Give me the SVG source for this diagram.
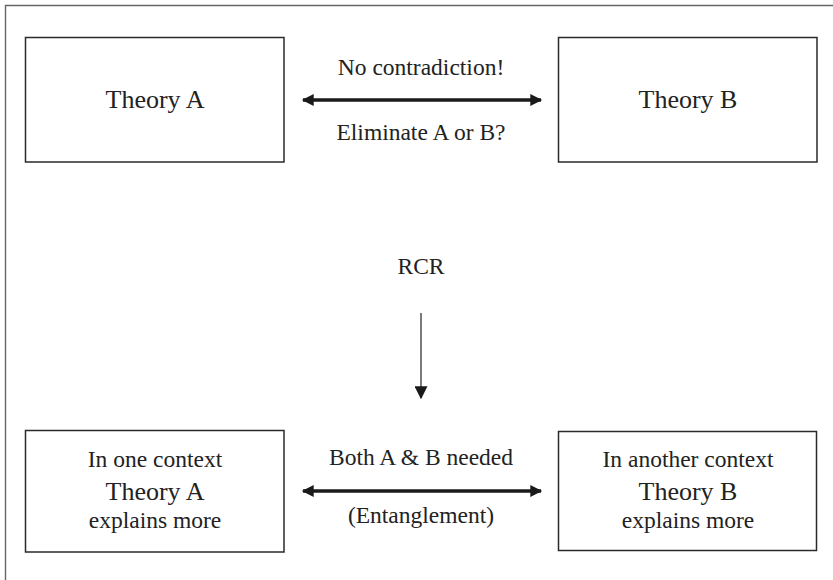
<svg xmlns="http://www.w3.org/2000/svg" width="833" height="580" viewBox="0 0 833 580">
<style>
.box{fill:#fff;stroke:#2a2a2a;stroke-width:1.5}
.t{font-family:"Liberation Serif","Times New Roman",serif;fill:#222;text-anchor:middle}
.big{font-size:26px}
.sm{font-size:23.5px}
.thick{stroke:#1a1a1a;stroke-width:3.5;fill:none}
.thin{stroke:#333;stroke-width:1.3;fill:none}
</style>
<defs>
<marker id="ah" viewBox="0 0 10 10" refX="9" refY="5" markerWidth="4" markerHeight="3.4" orient="auto-start-reverse" markerUnits="strokeWidth">
<path d="M0,0 L10,5 L0,10 z" fill="#1a1a1a"/>
</marker>
<marker id="ahs" viewBox="0 0 10 10" refX="9" refY="5" markerWidth="10" markerHeight="10" orient="auto" markerUnits="strokeWidth">
<path d="M0,0 L10,5 L0,10 z" fill="#1a1a1a"/>
</marker>
</defs>
<rect x="0" y="0" width="833" height="580" fill="#fff"/>
<path d="M5.5,600 L5.5,5.5 L840,5.5" fill="none" stroke="#666" stroke-width="1.4"/>
<g id="theoryA">
<rect class="box" x="25.5" y="37.5" width="258.5" height="124.5"/>
<text class="t big" x="155" y="108">Theory A</text>
</g>
<g id="theoryB">
<rect class="box" x="558.5" y="37.5" width="258.5" height="124.5"/>
<text class="t big" x="688" y="108">Theory B</text>
</g>
<g id="contextA">
<rect class="box" x="25.5" y="430.5" width="258.5" height="121.5"/>
<text class="t sm" x="155" y="467">In one context</text>
<text class="t big" x="155" y="500">Theory A</text>
<text class="t sm" x="155" y="528">explains more</text>
</g>
<g id="contextB">
<rect class="box" x="558.5" y="431.5" width="258" height="119"/>
<text class="t sm" x="688" y="467">In another context</text>
<text class="t big" x="688" y="500">Theory B</text>
<text class="t sm" x="688" y="528">explains more</text>
</g>
<g id="rcr">
<text class="t sm" x="421" y="274">RCR</text>
</g>
<g id="connectors">
<line class="thick" x1="303" y1="100" x2="541" y2="100" marker-start="url(#ah)" marker-end="url(#ah)"/>
<text class="t sm" x="421" y="75">No contradiction!</text>
<text class="t sm" x="421" y="140">Eliminate A or B?</text>
<line class="thin" x1="421" y1="313" x2="421" y2="398" marker-end="url(#ahs)"/>
<line class="thick" x1="303" y1="491" x2="541" y2="491" marker-start="url(#ah)" marker-end="url(#ah)"/>
<text class="t sm" x="421" y="465">Both A &amp; B needed</text>
<text class="t sm" x="421" y="523">(Entanglement)</text>
</g>
</svg>
